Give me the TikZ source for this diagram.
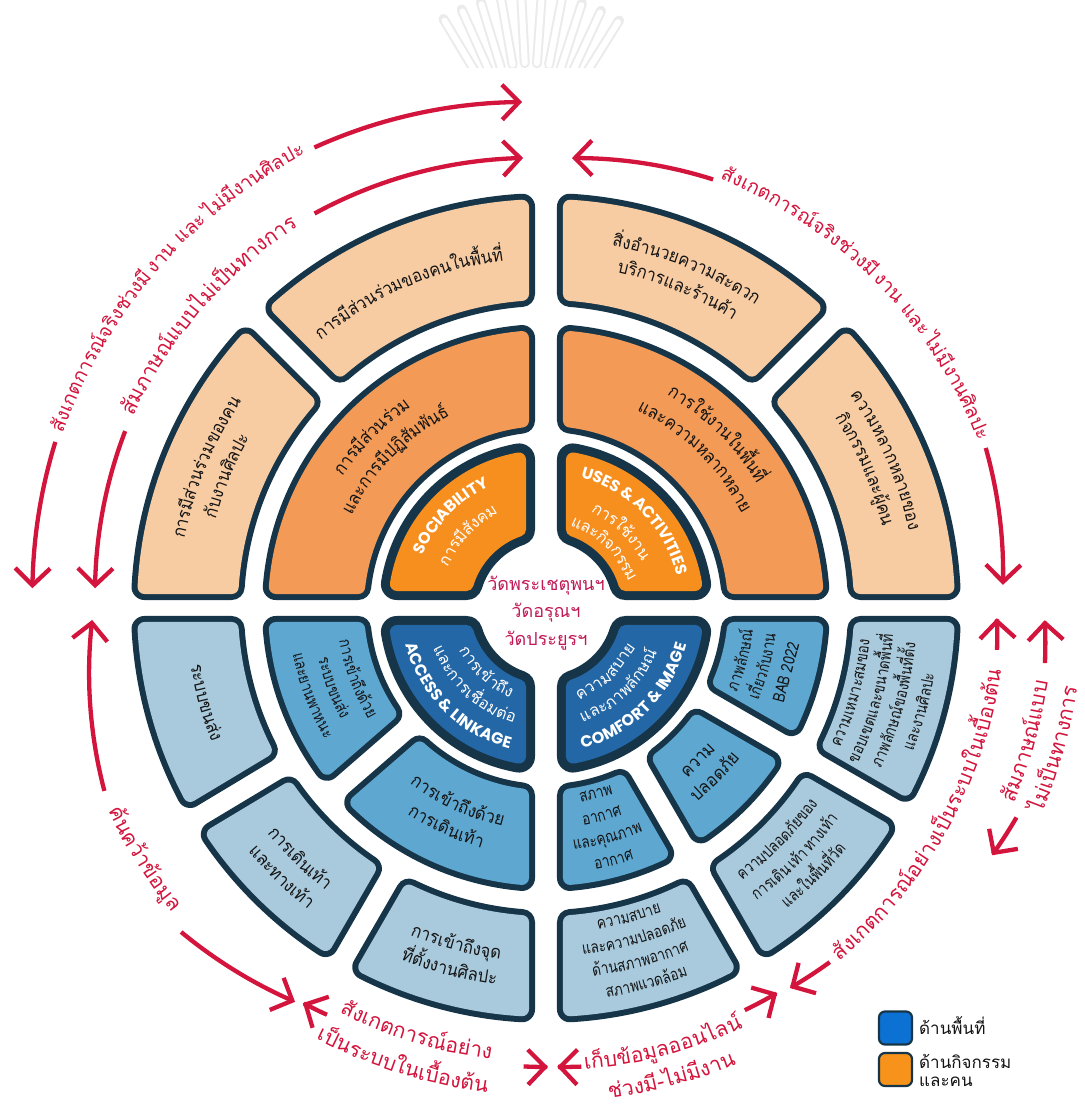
\documentclass[tikz,border=0pt]{standalone}
\usepackage{fontspec}
\usetikzlibrary{arrows.meta}
\newfontfamily\thaifont[Script=Thai]{Loma}
\newfontfamily\thaicond[Script=Thai, FakeStretch=0.92]{Loma}
\newfontfamily\thaicondb[Script=Thai, FakeStretch=0.82]{Loma}
\newfontfamily\engfont{Poppins}
\definecolor{bord}{HTML}{173548}
\definecolor{peach}{HTML}{F8CCA3}
\definecolor{morange}{HTML}{F29A56}
\definecolor{iorange}{HTML}{F78F1E}
\definecolor{iblue}{HTML}{2467A6}
\definecolor{mblue}{HTML}{5EA7D1}
\definecolor{oblue}{HTML}{A9CADD}
\definecolor{arrowred}{HTML}{D3153D}
\definecolor{wattext}{HTML}{C01A55}
\definecolor{legblue}{HTML}{0B72D3}
\definecolor{legorange}{HTML}{F7931A}
\definecolor{txt}{HTML}{141414}
\newcommand\ftile{\thaicond\fontsize{18}{22}\selectfont}
\newcommand\fsmall{\thaicondb\fontsize{16.5}{20}\selectfont}
\newcommand\finth{\thaifont\fontsize{16}{20}\selectfont}
\newcommand\feng{\engfont\bfseries\fontsize{16}{20}\selectfont}
\newcommand\fred{\thaifont\fontsize{21}{25}\selectfont}
\newcommand\fredb{\thaifont\fontsize{19.5}{24}\selectfont}
\makeatletter
\newdimen\al@tot
\newdimen\al@acc
\newdimen\al@w
\newcommand\al@measure[1]{\pgfinterruptpicture\global\setbox1=\hbox{#1}\endpgfinterruptpicture\global\al@w=\wd1\relax}
% #1 node opts, #2 font, #3 radius, #4 centre angle, #5 direction (+1 ccw, -1 cw), #6 chunks
\newcommand\arcline[6]{%
  \global\al@tot=0pt
  \foreach \chk in {#6}{\al@measure{#2\chk}\global\advance\al@tot by \al@w}%
  \pgfmathsetmacro\al@half{0.5*\al@tot/(#3)*57.29578}%
  \global\al@acc=0pt
  \foreach \chk in {#6}{%
    \al@measure{#2\chk}%
    \pgfmathsetmacro\al@ang{(#4)-(#5)*\al@half+(#5)*((\al@acc+0.5*\al@w)/(#3))*57.29578}%
    \pgfmathsetmacro\al@rot{\al@ang+(#5)*90}%
    \node[#1, font=#2, inner sep=0pt, outer sep=0pt, anchor=mid, rotate=\al@rot] at (\al@ang:#3) {\chk};
    \global\advance\al@acc by \al@w
  }%
}
\makeatother
% tile: #1 r1 #2 r2 #3 angA #4 gapA #5 angB #6 gapB #7 fill #8 border #9 corner
\newcommand\tile[9]{%
  \pgfmathsetmacro\crad{#9}%
  \pgfmathsetmacro\tRo{#2-\crad}%
  \pgfmathsetmacro\tRi{#1+\crad}%
  \pgfmathsetmacro\tAo{#3+asin((#4+\crad)/\tRo)}%
  \pgfmathsetmacro\tBo{#5-asin((#6+\crad)/\tRo)}%
  \pgfmathsetmacro\tAi{#3+asin((#4+\crad)/\tRi)}%
  \pgfmathsetmacro\tBi{#5-asin((#6+\crad)/\tRi)}%
  \pgfmathsetmacro\tLWo{2*\crad}%
  \pgfmathsetmacro\tLWi{2*\crad-2*#8}%
  \def\tpath{(\tAo:\tRo) arc[start angle=\tAo, end angle=\tBo, radius=\tRo] -- (\tBi:\tRi) arc[start angle=\tBi, end angle=\tAi, radius=\tRi] -- cycle}%
  \filldraw[bord, line width=\tLWo pt, line join=round] \tpath;
  \filldraw[#7, line width=\tLWi pt, line join=round] \tpath;
}
\tikzset{arw/.style={draw=arrowred, line width=4.3pt, -{Straight Barb[length=17pt, width=35pt]}}}
\newcommand\apiece[4]{\draw[arw] plot[domain=0:1, samples=30, variable=\q] ({(#1)+((#3)-(#1))*\q}:{(#2)+((#4)-(#2))*\q});}
\def\hv{11}\def\hh{8}\def\hg{10}
\begin{document}
\begin{tikzpicture}[x=1pt,y=1pt]
\useasboundingbox[fill=white] (-546,-497) rectangle (538,608);
% faint emblem at top
\begin{scope}
\clip (-546,540) rectangle (538,608);
\begin{scope}[shift={(-16,445)}]
\foreach \a in {58,65,...,124}{
  \draw[line width=10pt, line cap=round, black!8] (\a:100) -- (\a:168);
  \draw[line width=6pt, line cap=round, white] (\a:100) -- (\a:166);
}
\end{scope}
\end{scope}
% TL
\tile{67}{167}{90}{\hv}{180}{\hh}{iorange}{9}{16}
\tile{176}{284}{90}{\hv}{180}{\hh}{morange}{6}{13}
\tile{302}{415}{90}{\hv}{135}{\hg}{peach}{6}{13}
\tile{302}{415}{135}{\hg}{180}{\hh}{peach}{6}{13}
% TR
\tile{67}{167}{0}{\hh}{90}{\hv}{iorange}{9}{16}
\tile{176}{284}{0}{\hh}{90}{\hv}{morange}{6}{13}
\tile{302}{415}{0}{\hh}{45}{\hg}{peach}{6}{13}
\tile{302}{415}{45}{\hg}{90}{\hv}{peach}{6}{13}
% BL
\tile{67}{167}{180}{\hh}{270}{\hv}{iblue}{9}{16}
\tile{176}{284}{180}{\hh}{221}{\hg}{mblue}{6}{13}
\tile{176}{284}{221}{\hg}{270}{\hv}{mblue}{6}{13}
\tile{302}{415}{180}{\hh}{211}{\hg}{oblue}{6}{13}
\tile{302}{415}{211}{\hg}{240}{\hg}{oblue}{6}{13}
\tile{302}{415}{240}{\hg}{270}{\hv}{oblue}{6}{13}
% BR
\tile{67}{167}{270}{\hv}{360}{\hh}{iblue}{9}{16}
\tile{176}{284}{270}{\hv}{300}{\hg}{mblue}{6}{13}
\tile{176}{284}{300}{\hg}{330}{\hg}{mblue}{6}{13}
\tile{176}{284}{330}{\hg}{360}{\hh}{mblue}{6}{13}
\tile{302}{415}{270}{\hv}{300}{\hg}{oblue}{6}{13}
\tile{302}{415}{300}{\hg}{330}{\hg}{oblue}{6}{13}
\tile{302}{415}{330}{\hg}{360}{\hh}{oblue}{6}{13}
% ---------- texts TL
\arcline{text=txt}{\ftile}{352}{113.5}{-1}{การ,มี,ส่วน,ร่วม,ของ,คน,ใน,พื้น,ที่}
\arcline{text=txt}{\ftile}{370}{157.5}{-1}{การ,มี,ส่วน,ร่วม,ของ,คน}
\arcline{text=txt}{\ftile}{344}{157.5}{-1}{กับ,งาน,ศิล,ปะ}
\arcline{text=txt}{\ftile}{244}{135.5}{-1}{การ,มี,ส่วน,ร่วม}
\arcline{text=txt}{\ftile}{217}{135.5}{-1}{และ,การ,มี,ปฏิ,สัม,พันธ์}
\arcline{text=white}{\feng}{136}{136}{-1}{S,O,C,I,A,B,I,L,I,T,Y}
\arcline{text=white}{\finth}{108}{137}{-1}{การ,มี,สัง,คม}
% TR
\arcline{text=txt}{\ftile}{370}{67.5}{-1}{สิ่ง,อำ,นวย,ความ,สะ,ดวก}
\arcline{text=txt}{\ftile}{345}{67.5}{-1}{บริ,การ,และ,ร้าน,ค้า}
\arcline{text=txt}{\ftile}{373}{23.5}{-1}{ความ,หลาก,หลาย,ของ}
\arcline{text=txt}{\ftile}{348}{23.5}{-1}{กิจ,กรรม,และ,ผู้,คน}
\arcline{text=txt}{\ftile}{247}{45.5}{-1}{การ,ใช้,งาน,ใน,พื้น,ที่}
\arcline{text=txt}{\ftile}{219}{45.5}{-1}{และ,ความ,หลาก,หลาย}
\arcline{text=white}{\feng}{137}{44.5}{-1}{U,S,E,S,~,\&,~,A,C,T,I,V,I,T,I,E,S}
\arcline{text=white}{\finth}{108}{45.5}{-1}{การ,ใช้,งาน}
\arcline{text=white}{\finth}{87}{45.5}{-1}{และ,กิจ,กรรม}
% BL
\arcline{text=white}{\finth}{94}{-133}{1}{การ,เข้า,ถึง}
\arcline{text=white}{\finth}{117}{-133}{1}{และ,การ,เชื่อม,ต่อ}
\arcline{text=white}{\feng}{143}{-135}{1}{A,C,C,E,S,S,~,\&,~,L,I,N,K,A,G,E}
\arcline{text=txt}{\fsmall}{207}{-159.5}{1}{การ,เข้า,ถึง,ด้วย}
\arcline{text=txt}{\fsmall}{231}{-159.5}{1}{ระ,บบ,ขน,ส่ง}
\arcline{text=txt}{\fsmall}{255}{-159.5}{1}{และ,ยาน,พา,หนะ}
\arcline{text=txt}{\ftile}{220}{-114.5}{1}{การ,เข้า,ถึง,ด้วย}
\arcline{text=txt}{\ftile}{246}{-114.5}{1}{การ,เดิน,เท้า}
\arcline{text=txt}{\ftile}{358}{-164.5}{1}{ระ,บบ,ขน,ส่ง}
\arcline{text=txt}{\ftile}{356}{-134.5}{1}{การ,เดิน,เท้า}
\arcline{text=txt}{\ftile}{382}{-134.5}{1}{และ,ทาง,เท้า}
\arcline{text=txt}{\ftile}{352}{-105}{1}{การ,เข้า,ถึง,จุด}
\arcline{text=txt}{\ftile}{378}{-105}{1}{ที่,ตั้ง,งาน,ศิล,ปะ}
% BR
\arcline{text=white}{\finth}{94}{-47}{1}{ความ,สบาย}
\arcline{text=white}{\finth}{117}{-47}{1}{และ,ภาพ,ลัก,ษณ์}
\arcline{text=white}{\feng}{143}{-45}{1}{C,O,M,F,O,R,T,~,\&,~,I,M,A,G,E}
\arcline{text=txt}{\fsmall}{206}{-15}{1}{ภาพ,ลัก,ษณ์}
\arcline{text=txt}{\fsmall}{229}{-15}{1}{เกี่ยว,กับ,งาน}
\arcline{text=txt}{\fsmall}{252}{-15}{1}{BAB~2022}
\arcline{text=txt}{\ftile}{218}{-45}{1}{ความ}
\arcline{text=txt}{\ftile}{243}{-45}{1}{ปลอด,ภัย}
\arcline{text=txt}{\fsmall}{195}{-75}{1}{สภาพ}
\arcline{text=txt}{\fsmall}{218}{-75}{1}{อา,กาศ}
\arcline{text=txt}{\fsmall}{241}{-75}{1}{และ,คุณ,ภาพ}
\arcline{text=txt}{\fsmall}{264}{-75}{1}{อา,กาศ}
\arcline{text=txt}{\fsmall}{323}{-15.5}{1}{ความ,เหมาะ,สม,ของ}
\arcline{text=txt}{\fsmall}{346}{-15.5}{1}{ขอบ,เขต,และ,ขนาด,พื้น,ที่}
\arcline{text=txt}{\fsmall}{369}{-15.5}{1}{ภาพ,ลัก,ษณ์,ของ,พื้น,ที่,ตั้ง}
\arcline{text=txt}{\fsmall}{392}{-15.5}{1}{และ,งาน,ศิล,ปะ}
\arcline{text=txt}{\fsmall}{333}{-45}{1}{ความ,ปลอด,ภัย,ของ}
\arcline{text=txt}{\fsmall}{358}{-45}{1}{การ,เดิน,เท้า~,ทาง,เท้า}
\arcline{text=txt}{\fsmall}{383}{-45}{1}{และ,ใน,พื้น,ที่,วัด}
\arcline{text=txt}{\fsmall}{323}{-75}{1}{ความ,สบาย}
\arcline{text=txt}{\fsmall}{346}{-75}{1}{และ,ความ,ปลอด,ภัย}
\arcline{text=txt}{\fsmall}{369}{-75}{1}{ด้าน,สภาพ,อา,กาศ}
\arcline{text=txt}{\fsmall}{392}{-75}{1}{สภาพ,แวด,ล้อม}
% centre
\node[text=wattext, align=center, font=\thaifont\fontsize{18}{27.5}\selectfont] (centre) at (0,-5) {วัดพระเชตุพนฯ\\วัดอรุณฯ\\วัดประยูรฯ};
% ---------- arrows
\apiece{161.3}{518}{177.8}{514}
\apiece{116.7}{515.5}{92.7}{506.6}
\apiece{157.2}{456.5}{177.5}{451.4}
\apiece{120.4}{457.4}{92.9}{450.6}
\apiece{68.7}{460}{86.7}{450.7}
\apiece{20}{468}{2.9}{457.6}
\apiece{-5.3}{453}{-1.3}{451}
\apiece{-51.3}{453.8}{-57.3}{451.6}
\apiece{-6.3}{502}{-1.4}{499}
\apiece{-24}{515}{-29}{510}
\apiece{-85.6}{460}{-88.6}{459}
\apiece{-63.7}{448.6}{-59}{449}
\apiece{-92.8}{459}{-89.75}{459}
\apiece{-118.3}{462}{-121.6}{463.8}
\apiece{-157.5}{478}{-178.5}{454}
\apiece{-138.4}{488}{-122.5}{467}
% arrow texts
\arcline{text=arrowred}{\fredb}{516}{139}{-1}{สัง,เกต,การ,ณ์,จริง,ช่วง,มี,งาน~,และ~,ไม่,มี,งาน,ศิล,ปะ}
\arcline{text=arrowred}{\fred}{457}{139}{-1}{สัม,ภา,ษณ์,แบบ,ไม่,เป็น,ทาง,การ}
\arcline{text=arrowred}{\fredb}{465}{44.5}{-1}{สัง,เกต,การ,ณ์,จริง,ช่วง,มี,งาน~,และ~,ไม่,มี,งาน,ศิล,ปะ}
\arcline{text=arrowred}{\fred}{457}{-29}{1}{สัง,เกต,การ,ณ์,อย่าง,เป็น,ระ,บบ,ใน,เบื้อง,ต้น}
\arcline{text=arrowred}{\fred}{505}{-15.5}{1}{สัม,ภา,ษณ์,แบบ}
\arcline{text=arrowred}{\fred}{535}{-15.5}{1}{ไม่,เป็น,ทาง,การ}
\arcline{text=arrowred}{\fred}{461}{-75}{1}{เก็บ,ข้อ,มูล,ออน,ไลน์}
\arcline{text=arrowred}{\fred}{492}{-75}{1}{ช่วง,มี-,ไม่,มี,งาน}
\arcline{text=arrowred}{\fred}{452}{-107}{1}{สัง,เกต,การ,ณ์,อย่าง}
\arcline{text=arrowred}{\fred}{486}{-107.5}{1}{เป็น,ระ,บบ,ใน,เบื้อง,ต้น}
\arcline{text=arrowred}{\fred}{480}{-148}{1}{ค้น,คว้า,ข้อ,มูล}
% ---------- legend
\node[draw=bord, line width=2.2pt, fill=legblue, rounded corners=6pt, minimum size=33pt, inner sep=0pt] (legA) at (349.5,-420) {};
\node[draw=bord, line width=2.2pt, fill=legorange, rounded corners=6pt, minimum size=33pt, inner sep=0pt] (legB) at (349.5,-461.5) {};
\node[anchor=west, text=txt, font=\thaifont\fontsize{17}{21}\selectfont, inner sep=0pt] (legAt) at (373,-418) {ด้านพื้นที่};
\node[anchor=west, text=txt, font=\thaifont\fontsize{17}{21}\selectfont, inner sep=0pt] (legBt) at (373,-453) {ด้านกิจกรรม};
\node[anchor=west, text=txt, font=\thaifont\fontsize{17}{21}\selectfont, inner sep=0pt] (legCt) at (373,-474) {และคน};
\end{tikzpicture}
\end{document}
